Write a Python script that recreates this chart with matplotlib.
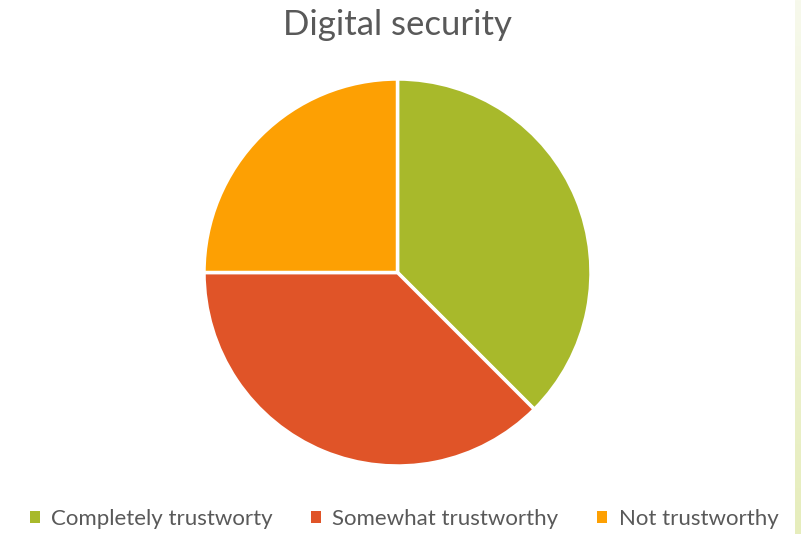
import numpy as np
import matplotlib.pyplot as plt
from matplotlib.patches import Patch
from matplotlib.colors import LinearSegmentedColormap

# chart data
labels = ["Completely trustworty", "Somewhat trustworthy", "Not trustworthy"]
values = [37.5, 37.5, 25]
colors = ["#A8B92B", "#E05428", "#FDA003"]

plt.rcParams['font.family'] = ['Lato', 'DejaVu Sans']

fig = plt.figure(figsize=(8.01, 5.34), dpi=100)
W, H = 801, 534

# pie axes: 400x400 px box centred on the pie
cx, cy, r = 397.5, 272.5, 193.5
ax = fig.add_axes([(cx - 200) / W, 1 - (cy + 200) / H, 400 / W, 400 / H])
ax.pie(values, colors=colors, startangle=90, counterclock=False,
       radius=r / 200, wedgeprops=dict(edgecolor="white", linewidth=2.5))
ax.set_xlim(-1, 1)
ax.set_ylim(-1, 1)
ax.set_aspect("equal")
ax.axis("off")

fig.text(397 / W, 1 - 25 / H, "Digital security", ha="center", va="center",
         fontsize=25, color="#595959")

# light green strip on the right edge
strip = fig.add_axes([795 / W, 0, 6 / W, 1])
grad = np.linspace(0, 1, 256).reshape(-1, 1)
cmap = LinearSegmentedColormap.from_list("s", ["#E6EDBC", "#F7F9EC"])
strip.imshow(grad, aspect="auto", cmap=cmap, origin="lower")
strip.axis("off")

handles = [Patch(facecolor=c, edgecolor="none") for c in colors]
fig.legend(handles, labels, loc="center", bbox_to_anchor=(404 / W, 1 - 519 / H),
           ncol=3, frameon=False, fontsize=16, handlelength=0.45, handleheight=0.45,
           handletextpad=0.5, columnspacing=1.75, labelcolor="#595959")

fig.savefig("out.png", dpi=100, facecolor="white")
